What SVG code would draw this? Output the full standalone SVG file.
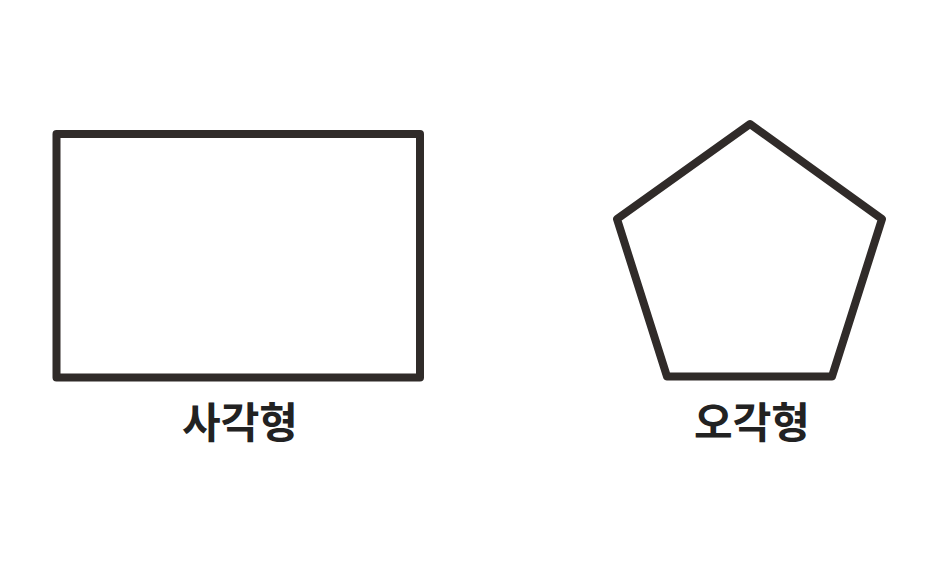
<svg xmlns="http://www.w3.org/2000/svg" width="940" height="570" viewBox="0 0 940 570">
<style>
.shape{fill:none;stroke:#302b29;stroke-width:8;stroke-linejoin:round}
.lbl{font-family:"Noto Sans CJK KR","Noto Sans",sans-serif;font-weight:700;font-size:42px;fill:#222;text-anchor:middle}
</style>
<rect width="940" height="570" fill="#fff"/>
<g id="rectangle">
<rect class="shape" x="56.5" y="134" width="363.5" height="243.5"/>
<text class="lbl" x="240" y="438">사각형</text>
</g>
<g id="pentagon">
<polygon class="shape" points="750,124 882,219 832,376.5 667,376.5 617,219"/>
<text class="lbl" x="752" y="438">오각형</text>
</g>
<g id="connectors"/>
</svg>
